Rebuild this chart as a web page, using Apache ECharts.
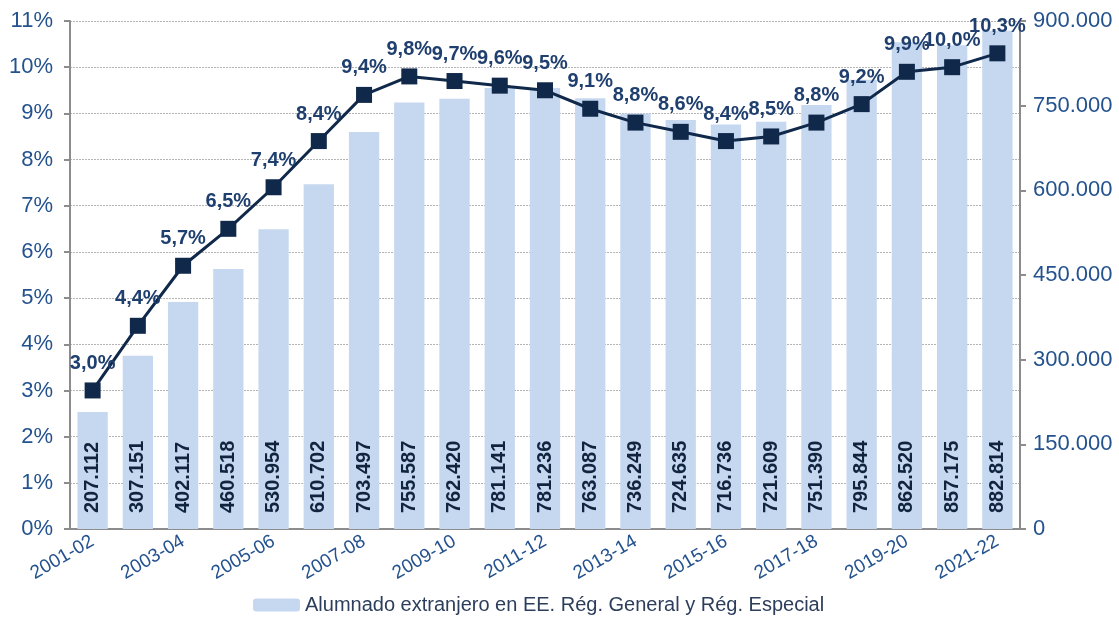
<!DOCTYPE html>
<html>
<head>
<meta charset="utf-8">
<script src="https://cdn.jsdelivr.net/npm/echarts@6/dist/echarts.min.js"></script>
<style>
    html, body { margin: 0; padding: 0; background: #fff; }
    #chart { width: 1119px; height: 618px; }
</style>
</head>
<body>
<div id="chart"></div>
<script>
    // cursos
    var cursos = ['2001-02', '2002-03', '2003-04', '2004-05', '2005-06', '2006-07', '2007-08',
        '2008-09', '2009-10', '2010-11', '2011-12', '2012-13', '2013-14', '2014-15', '2015-16',
        '2016-17', '2017-18', '2018-19', '2019-20', '2020-21', '2021-22'];
    // alumnado extranjero (barras, eje derecho)
    var alumnado = [207112, 307151, 402117, 460518, 530954, 610702, 703497, 755587, 762420, 781141,
        781236, 763087, 736249, 724635, 716736, 721609, 751390, 795844, 862520, 857175, 882814];
    // porcentaje sobre el total (linea, eje izquierdo)
    var porcentaje = [3.0, 4.4, 5.7, 6.5, 7.4, 8.4, 9.4, 9.8, 9.7, 9.6, 9.5, 9.1, 8.8, 8.6, 8.4,
        8.5, 8.8, 9.2, 9.9, 10.0, 10.3];
    var nombreSerie = 'Alumnado extranjero en EE. Rég. General y Rég. Especial';

    function miles(v) {
        return String(v).replace(/\B(?=(\d{3})+(?!\d))/g, '.');
    }

    var chart = echarts.init(document.getElementById('chart'));
    var fuente = 'Liberation Sans, Arial, sans-serif';
    var azul = '#24528e';

    var option = {
        animation: false,
        textStyle: { fontFamily: fuente },
        grid: { left: 70, right: 99, top: 21, bottom: 89 },
        legend: {
            data: [nombreSerie],
            top: 595,
            left: 253,
            padding: 0,
            itemWidth: 47,
            itemHeight: 13,
            itemGap: 6,
            itemStyle: { borderRadius: 0 },
            textStyle: { fontSize: 20, color: '#2c3e5c', fontFamily: fuente }
        },
        xAxis: {
            type: 'category',
            data: cursos,
            axisLine: { lineStyle: { color: '#8c8c8c', width: 2 } },
            axisTick: { show: false },
            axisLabel: {
                interval: 1,
                rotate: 30,
                fontSize: 19,
                color: azul,
                margin: 11
            }
        },
        yAxis: [
            {
                type: 'value',
                min: 0,
                max: 11,
                interval: 1,
                position: 'left',
                axisLine: { show: true, lineStyle: { color: '#8c8c8c', width: 2 } },
                axisTick: { show: true, length: 6, lineStyle: { color: '#8c8c8c', width: 2 } },
                axisLabel: {
                    formatter: '{value}%',
                    fontSize: 22,
                    color: azul,
                    margin: 17
                },
                splitLine: { lineStyle: { color: '#b4b4b4', type: [2, 1], width: 1 } }
            },
            {
                type: 'value',
                min: 0,
                max: 900000,
                interval: 150000,
                position: 'right',
                axisLine: { show: true, lineStyle: { color: '#8c8c8c', width: 2 } },
                axisTick: { show: true, length: 6, lineStyle: { color: '#8c8c8c', width: 2 } },
                axisLabel: {
                    formatter: function (v) { return miles(v); },
                    fontSize: 22,
                    color: azul,
                    margin: 13
                },
                splitLine: { show: false }
            }
        ],
        series: [
            {
                name: nombreSerie,
                type: 'bar',
                yAxisIndex: 1,
                data: alumnado,
                barWidth: '67%',
                itemStyle: { color: '#c6d8f0' },
                label: {
                    show: true,
                    position: 'insideBottom',
                    rotate: 90,
                    align: 'left',
                    verticalAlign: 'middle',
                    distance: 16,
                    fontSize: 20,
                    fontWeight: 'bold',
                    color: '#10243f',
                    formatter: function (p) { return miles(p.value); }
                },
                z: 1
            },
            {
                name: 'porcentaje',
                type: 'line',
                yAxisIndex: 0,
                data: porcentaje,
                symbol: 'rect',
                symbolSize: 16,
                lineStyle: { color: '#10284a', width: 3 },
                itemStyle: { color: '#10284a' },
                label: {
                    show: true,
                    position: 'top',
                    distance: 9,
                    fontSize: 20,
                    fontWeight: 'bold',
                    color: '#1f3f6e',
                    formatter: function (p) { return p.value.toFixed(1).replace('.', ',') + '%'; }
                },
                z: 3
            }
        ]
    };

    chart.setOption(option);
    window.addEventListener('resize', function () {
        chart.resize();
    });
</script>
</body>
</html>
